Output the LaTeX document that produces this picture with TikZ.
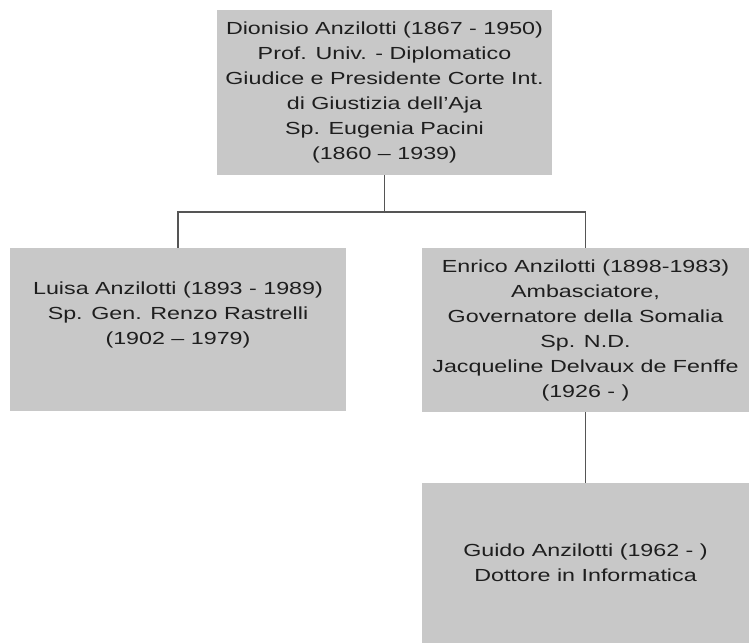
\documentclass[tikz,border=0pt]{standalone}
\usepackage{fontspec}
\setmainfont{Liberation Sans}[FakeStretch=1.33]
\usepackage{tikz}
\definecolor{boxgray}{RGB}{200,200,200}
\definecolor{linegray}{RGB}{85,85,85}
\definecolor{textgray}{RGB}{30,30,30}
\tikzstyle{person} = [rectangle, fill=boxgray, draw=none, inner sep=0pt, align=center, text=textgray, font=\fontsize{17.5}{25}\selectfont]
\tikzstyle{link} = [draw=linegray, line width=1.4pt]

\begin{document}
\begin{tikzpicture}[x=1pt, y=-1pt]
  \useasboundingbox[fill=white] (0,0) rectangle (750,643);

  \node[person, minimum width=335pt, minimum height=165pt] (dionisio) at (384.5,92.5)
    {Dionisio Anzilotti (1867 - 1950)\\Prof. Univ. - Diplomatico\\Giudice e Presidente Corte Int.\\di Giustizia dell'Aja\\Sp. Eugenia Pacini\\(1860 -- 1939)};

  \node[person, minimum width=336pt, minimum height=163pt] (luisa) at (178,329.5)
    {Luisa Anzilotti (1893 - 1989)\\Sp. Gen. Renzo Rastrelli\\(1902 -- 1979)\\\strut};

  \node[person, minimum width=327pt, minimum height=164pt] (enrico) at (585.5,330)
    {Enrico Anzilotti (1898-1983)\\Ambasciatore,\\Governatore della Somalia\\Sp. N.D.\\Jacqueline Delvaux de Fenffe\\(1926 - )};

  \node[person, minimum width=327pt, minimum height=160pt] (guido) at (585.5,563)
    {Guido Anzilotti (1962 - )\\Dottore in Informatica};

  \coordinate (fork) at (384.5,212);
  \draw[link] (dionisio.south) -- (fork);
  \draw[link] (luisa.north) |- (fork) -| (enrico.north);
  \draw[link] (enrico.south) -- (guido.north);

\end{tikzpicture}
\end{document}
